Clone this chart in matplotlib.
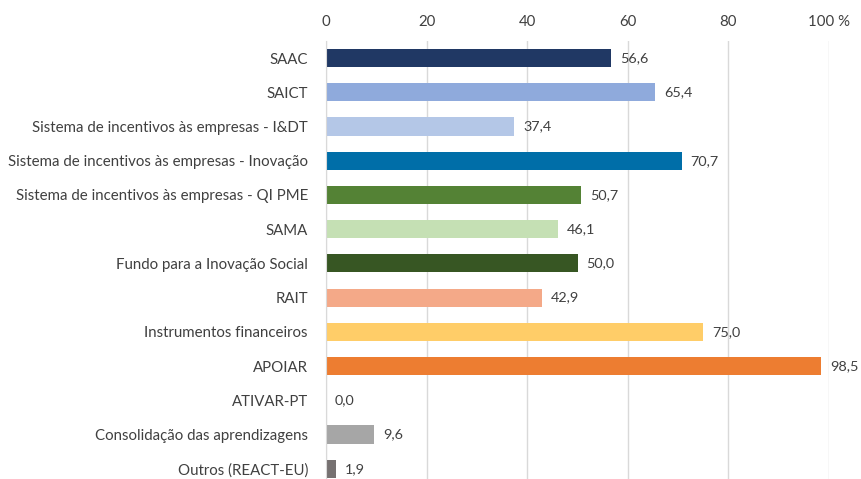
import numpy as np
import matplotlib.pyplot as plt

plt.rcParams['font.family'] = ['Lato', 'DejaVu Sans']

# dados
categorias = [
    "SAAC",
    "SAICT",
    "Sistema de incentivos às empresas - I&DT",
    "Sistema de incentivos às empresas - Inovação",
    "Sistema de incentivos às empresas - QI PME",
    "SAMA",
    "Fundo para a Inovação Social",
    "RAIT",
    "Instrumentos financeiros",
    "APOIAR",
    "ATIVAR-PT",
    "Consolidação das aprendizagens",
    "Outros (REACT-EU)",
]
valores = [56.6, 65.4, 37.4, 70.7, 50.7, 46.1, 50.0, 42.9, 75.0, 98.5, 0.0, 9.6, 1.9]
cores = ["#203864", "#8FAADC", "#B4C7E7", "#006EA8", "#548235", "#C5E0B4",
         "#375623", "#F4A988", "#FFCD68", "#ED7D31", "#A5A5A5", "#A6A6A6", "#767171"]
ticks_x = [0, 20, 40, 60, 80, 100]
ticks_lab = ["0", "20", "40", "60", "80", "100 %"]

fig = plt.figure(figsize=(8.62, 4.79), dpi=100)
ax = fig.add_axes([326 / 862, 0, 503 / 862, 438 / 479])

y = np.arange(len(categorias))
ax.barh(y, valores, height=0.53, color=cores, zorder=3)

for yi, v in zip(y, valores):
    ax.text(v + 1.8, yi, f"{v:.1f}".replace(".", ","), va='center', ha='left',
            fontsize=10.4, color='#404040')

ax.set_xlim(0, 100)
ax.set_ylim(12.3, -0.5)
ax.set_yticks(y)
ax.set_yticklabels(categorias, fontsize=10.8, color='#404040')
ax.set_xticks(ticks_x)
ax.set_xticklabels(ticks_lab, fontsize=10.8, color='#404040')
ax.xaxis.tick_top()
ax.tick_params(axis='both', length=0, pad=9)
ax.tick_params(axis='y', pad=13)
ax.grid(axis='x', color='#D9D9D9', linewidth=1, zorder=0)

for s in ['top', 'right', 'bottom']:
    ax.spines[s].set_visible(False)
ax.spines['left'].set_color('#D9D9D9')
ax.spines['left'].set_zorder(4)

fig.savefig("out.png", dpi=100)
